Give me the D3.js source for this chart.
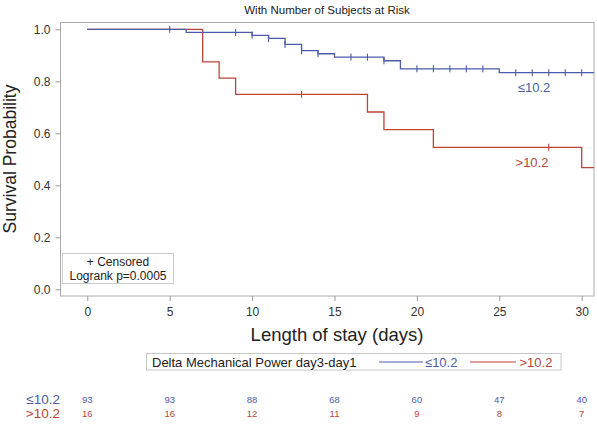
<!DOCTYPE html>
<html>
<head>
<meta charset="utf-8">
<script src="https://cdn.jsdelivr.net/npm/d3@7"></script>
<style>
  body { margin: 0; background: #fff; }
  svg { font-family: "Liberation Sans", Arial, sans-serif; }
  .axis text { fill: #333; }
  .axis line { stroke: #999; }
</style>
</head>
<body>
<div id="chart"></div>
<script>
// DATA
const groups = ["≤10.2", ">10.2"];
const lowTimes = [0, 6, 10, 11, 12, 13, 14, 15, 18, 19, 25];
const lowSurv = [1, 0.988, 0.977, 0.965, 0.942, 0.918, 0.906, 0.893, 0.879, 0.848, 0.833];
const lowCensored = [5, 9, 10, 11, 12, 13, 14, 16, 17, 18, 20, 21, 22, 23, 24, 26, 27, 28, 29, 30];
const highTimes = [0, 7, 8, 9, 17, 18, 21, 30];
const highSurv = [1, 0.875, 0.8125, 0.75, 0.682, 0.614, 0.546, 0.468];
const highCensored = [13, 28];
const riskTimes = [0, 5, 10, 15, 20, 25, 30];
const lowAtRisk = [93, 93, 88, 68, 60, 47, 40];
const highAtRisk = [16, 16, 12, 11, 9, 8, 7];
const xTicks = [0, 5, 10, 15, 20, 25, 30];
const yTicks = [0, 0.2, 0.4, 0.6, 0.8, 1.0];
const lastFollowUp = 30.75;

// SIZES
const width = 597, height = 424;
const frame = {left: 60.5, right: 594, top: 22.5, bottom: 296};
const colors = {"≤10.2": "#4a5ca8", ">10.2": "#bb4437"};

const svg = d3.select("#chart").append("svg")
    .attr("width", width)
    .attr("height", height);

const xScale = d3.scaleLinear().domain([0, 30]).range([87.3, 581.7]);
const yScale = d3.scaleLinear().domain([0, 1]).range([289.3, 29.3]);

// TITLE
svg.append("text")
    .attr("x", 327).attr("y", 14)
    .attr("text-anchor", "middle")
    .style("font-size", "11.5px")
    .style("fill", "#222")
    .text("With Number of Subjects at Risk");

// FRAME
svg.append("rect")
    .attr("x", frame.left).attr("y", frame.top)
    .attr("width", frame.right - frame.left)
    .attr("height", frame.bottom - frame.top)
    .attr("fill", "none")
    .attr("stroke", "#aaa");

// X AXIS
const xAxis = svg.append("g")
    .attr("class", "axis")
    .attr("transform", "translate(0," + frame.bottom + ")")
    .call(d3.axisBottom(xScale).tickValues(xTicks).tickSize(5).tickSizeOuter(0).tickPadding(6));
xAxis.select(".domain").remove();
xAxis.selectAll("text").style("font-size", "12px").attr("font-family", null);

// Y AXIS
const yAxis = svg.append("g")
    .attr("class", "axis")
    .attr("transform", "translate(" + frame.left + ",0)")
    .call(d3.axisLeft(yScale).tickValues(yTicks).tickFormat(d3.format(".1f")).tickSize(5).tickSizeOuter(0).tickPadding(5));
yAxis.select(".domain").remove();
yAxis.selectAll("text").style("font-size", "12px").attr("font-family", null);

// AXIS LABELS
svg.append("text")
    .attr("x", 337).attr("y", 341)
    .attr("text-anchor", "middle")
    .style("font-size", "18.5px")
    .style("fill", "#222")
    .text("Length of stay (days)");

svg.append("text")
    .attr("transform", "translate(16,159) rotate(-90)")
    .attr("text-anchor", "middle")
    .style("font-size", "17.5px")
    .style("fill", "#222")
    .text("Survival Probability");

// CURVES
const stepLine = d3.line()
    .x(d => xScale(d[0]))
    .y(d => yScale(d[1]))
    .curve(d3.curveStepAfter);

function survAt(times, surv, t) {
    let s = surv[0];
    for (let i = 0; i < times.length; i++) {
        if (times[i] <= t) s = surv[i];
    }
    return s;
}

function drawCurve(name, times, surv, censored) {
    const pts = times.map((t, i) => [t, surv[i]]);
    pts.push([lastFollowUp, surv[surv.length - 1]]);
    svg.append("path")
        .datum(pts)
        .attr("d", stepLine)
        .attr("fill", "none")
        .attr("stroke", colors[name])
        .attr("stroke-width", 1.3);

    svg.selectAll(".cens-" + (name === groups[0] ? "low" : "high"))
        .data(censored)
        .enter().append("line")
        .attr("x1", d => xScale(d)).attr("x2", d => xScale(d))
        .attr("y1", d => yScale(survAt(times, surv, d)) - 3.5)
        .attr("y2", d => yScale(survAt(times, surv, d)) + 3.5)
        .attr("stroke", colors[name])
        .attr("stroke-width", 1.1);
}

drawCurve(groups[1], highTimes, highSurv, highCensored);
drawCurve(groups[0], lowTimes, lowSurv, lowCensored);

// CURVE LABELS
svg.append("text")
    .attr("x", 534).attr("y", 91.5)
    .attr("text-anchor", "middle")
    .style("font-size", "13px")
    .style("fill", colors[groups[0]])
    .text(groups[0]);
svg.append("text")
    .attr("x", 532).attr("y", 166.5)
    .attr("text-anchor", "middle")
    .style("font-size", "13px")
    .style("fill", colors[groups[1]])
    .text(groups[1]);

// INSET BOX
svg.append("rect")
    .attr("x", 62.5).attr("y", 253.5)
    .attr("width", 111).attr("height", 30)
    .attr("fill", "#fff")
    .attr("stroke", "#ccc");
svg.append("text")
    .attr("x", 118).attr("y", 266)
    .attr("text-anchor", "middle")
    .style("font-size", "12px")
    .style("fill", "#222")
    .text("+ Censored");
svg.append("text")
    .attr("x", 118).attr("y", 280)
    .attr("text-anchor", "middle")
    .style("font-size", "12px")
    .style("fill", "#222")
    .text("Logrank p=0.0005");

// LEGEND
const legend = svg.append("g");
legend.append("rect")
    .attr("x", 146.5).attr("y", 353.5)
    .attr("width", 414.5).attr("height", 16.5)
    .attr("fill", "#fff")
    .attr("stroke", "#c8c8c8");
legend.append("text")
    .attr("x", 152).attr("y", 366.5)
    .style("font-size", "13px")
    .style("fill", "#222")
    .text("Delta Mechanical Power day3-day1");
legend.append("line")
    .attr("x1", 379).attr("x2", 423).attr("y1", 362).attr("y2", 362)
    .attr("stroke", colors[groups[0]]);
legend.append("text")
    .attr("x", 425).attr("y", 366.5)
    .style("font-size", "13px")
    .style("fill", colors[groups[0]])
    .text(groups[0]);
legend.append("line")
    .attr("x1", 470).attr("x2", 516).attr("y1", 362).attr("y2", 362)
    .attr("stroke", colors[groups[1]]);
legend.append("text")
    .attr("x", 519.5).attr("y", 366.5)
    .style("font-size", "13px")
    .style("fill", colors[groups[1]])
    .text(groups[1]);

// NUMBER AT RISK TABLE
const riskRows = [
    {name: groups[0], values: lowAtRisk, y: 399.5},
    {name: groups[1], values: highAtRisk, y: 413.5}
];
riskRows.forEach(row => {
    svg.append("text")
        .attr("x", 60).attr("y", row.y + 4.8)
        .attr("text-anchor", "end")
        .style("font-size", "13.5px")
        .style("fill", colors[row.name])
        .text(row.name);
    svg.selectAll(null)
        .data(row.values)
        .enter().append("text")
        .attr("x", (d, i) => xScale(riskTimes[i]))
        .attr("y", row.y + 3.5)
        .attr("text-anchor", "middle")
        .style("font-size", "9.5px")
        .style("fill", colors[row.name])
        .text(d => d);
});
</script>
</body>
</html>
